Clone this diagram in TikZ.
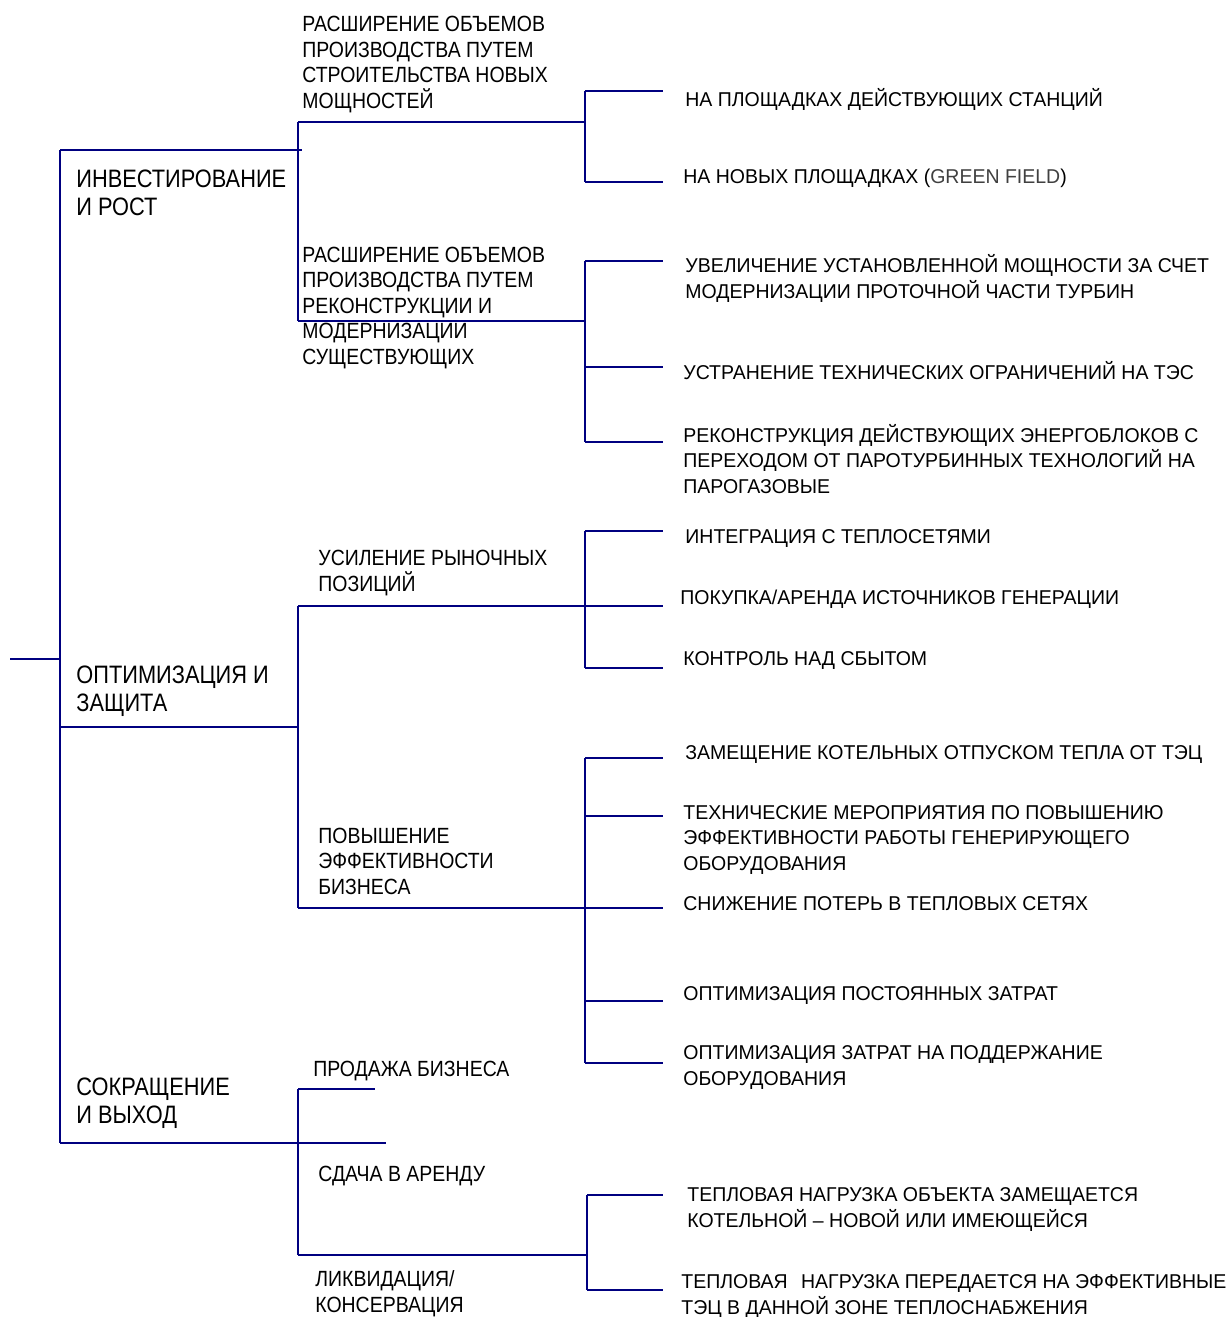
\documentclass[tikz,border=0pt]{standalone}
\usepackage{fontspec}
\setmainfont{Liberation Sans}
\newfontfamily\topfont[FakeStretch=0.865]{Liberation Sans}
\newfontfamily\midfont[FakeStretch=0.885]{Liberation Sans}
\newfontfamily\leaffont[FakeStretch=0.975]{Liberation Sans}
\usetikzlibrary{positioning}
\definecolor{navyline}{RGB}{0,0,128}
% anchor is the baseline of the last line of each label
\tikzset{branch/.style={draw=navyline, line width=1pt},
         goal/.style={anchor=base west, inner sep=0pt, align=left, font=\topfont\fontsize{12.6}{14}\selectfont},
         way/.style={anchor=base west, inner sep=0pt, align=left, font=\midfont\fontsize{11}{12.7}\selectfont},
         measure/.style={anchor=base west, inner sep=0pt, align=left, font=\leaffont\fontsize{10}{12.6}\selectfont},
        }

\begin{document}
\begin{tikzpicture}[x=0.5pt, y=-0.5pt]
        \useasboundingbox (0,0) rectangle (1230,1317);
        % trunk
        \coordinate (root) at (10,659);
        \coordinate (trunk) at (60,659);
        \coordinate (trunkT) at (60,150);
        \coordinate (trunkM) at (60,727);
        \coordinate (trunkB) at (60,1143);
        \draw[branch] (root)--(trunk);
        \draw[branch] (trunkT)--(trunkB);

        % level 1
        \node[goal](inv)at(76,215){ИНВЕСТИРОВАНИЕ\\И РОСТ};
        \node[goal](opt)at(76,711){ОПТИМИЗАЦИЯ И\\ЗАЩИТА};
        \node[goal](red)at(76,1123){СОКРАЩЕНИЕ\\И ВЫХОД};
        \coordinate (invE) at (302,150);
        \coordinate (optE) at (298,727);
        \coordinate (redE) at (386,1143);
        \draw[branch] (trunkT)--(invE);
        \draw[branch] (trunkM)--(optE);
        \draw[branch] (trunkB)--(redE);

        % level 2
        \node[way](newcap)at(302,108){РАСШИРЕНИЕ ОБЪЕМОВ\\ПРОИЗВОДСТВА ПУТЕМ\\СТРОИТЕЛЬСТВА НОВЫХ\\МОЩНОСТЕЙ};
        \node[way](recon)at(302,364){РАСШИРЕНИЕ ОБЪЕМОВ\\ПРОИЗВОДСТВА ПУТЕМ\\РЕКОНСТРУКЦИИ И\\МОДЕРНИЗАЦИИ\\СУЩЕСТВУЮЩИХ};
        \node[way](market)at(318,591){УСИЛЕНИЕ РЫНОЧНЫХ\\ПОЗИЦИЙ};
        \node[way](effic)at(318,894){ПОВЫШЕНИЕ\\ЭФФЕКТИВНОСТИ\\БИЗНЕСА};
        \node[way](sale)at(313,1076){ПРОДАЖА БИЗНЕСА};
        \node[way](lease)at(318,1181){СДАЧА В АРЕНДУ};
        \node[way](close)at(315,1312){ЛИКВИДАЦИЯ/\\КОНСЕРВАЦИЯ};

        \coordinate (inv1) at (298,122);
        \coordinate (inv2) at (298,321);
        \coordinate (opt1) at (298,606);
        \coordinate (opt2) at (298,908);
        \coordinate (red1) at (298,1089);
        \coordinate (red2) at (298,1255);
        \coordinate (saleE) at (375,1089);
        \draw[branch] (inv1)--(inv2);
        \draw[branch] (opt1)--(opt2);
        \draw[branch] (red1)--(red2);
        \draw[branch] (red1)--(saleE);

        % level 3 forks
        \coordinate (forkA) at (585,122);
        \coordinate (forkB) at (585,321);
        \coordinate (forkC) at (585,606);
        \coordinate (forkD) at (585,908);
        \coordinate (forkE) at (587,1255);
        \draw[branch] (inv1)--(forkA);
        \draw[branch] (inv2)--(forkB);
        \draw[branch] (opt1)--(forkC);
        \draw[branch] (opt2)--(forkD);
        \draw[branch] (red2)--(forkE);

        \foreach \g/\x/\ys in {A/585/{91,182}, B/585/{261,367,442}, C/585/{531,606,668},
                               D/585/{758,816,908,1001,1063}, E/587/{1195,1290}}{
          \foreach \y [count=\i] in \ys {
            \coordinate (\g\i) at (\x,\y);
            \coordinate (\g\i e) at (663,\y);
            \draw[branch] (\g\i)--(\g\i e);
          }
        }
        \draw[branch] (A1)--(A2);
        \draw[branch] (B1)--(B3);
        \draw[branch] (C1)--(C3);
        \draw[branch] (D1)--(D5);
        \draw[branch] (E1)--(E2);

        % measures
        \node[measure](a1)at(685,106){НА ПЛОЩАДКАХ ДЕЙСТВУЮЩИХ СТАНЦИЙ};
        \node[measure](a2)at(683,183){НА НОВЫХ ПЛОЩАДКАХ ({\color{black!75}GREEN FIELD})};
        \node[measure](b1)at(685,298){УВЕЛИЧЕНИЕ УСТАНОВЛЕННОЙ МОЩНОСТИ ЗА СЧЕТ\\МОДЕРНИЗАЦИИ ПРОТОЧНОЙ ЧАСТИ ТУРБИН};
        \node[measure](b2)at(683,379){УСТРАНЕНИЕ ТЕХНИЧЕСКИХ ОГРАНИЧЕНИЙ НА ТЭС};
        \node[measure](b3)at(683,493){РЕКОНСТРУКЦИЯ ДЕЙСТВУЮЩИХ ЭНЕРГОБЛОКОВ С\\ПЕРЕХОДОМ ОТ ПАРОТУРБИННЫХ ТЕХНОЛОГИЙ НА\\ПАРОГАЗОВЫЕ};
        \node[measure](c1)at(685,543){ИНТЕГРАЦИЯ С ТЕПЛОСЕТЯМИ};
        \node[measure](c2)at(680,604){ПОКУПКА/АРЕНДА ИСТОЧНИКОВ ГЕНЕРАЦИИ};
        \node[measure](c3)at(683,665){КОНТРОЛЬ НАД СБЫТОМ};
        \node[measure](d1)at(685,759){ЗАМЕЩЕНИЕ КОТЕЛЬНЫХ ОТПУСКОМ ТЕПЛА ОТ ТЭЦ};
        \node[measure](d2)at(683,870){ТЕХНИЧЕСКИЕ МЕРОПРИЯТИЯ ПО ПОВЫШЕНИЮ\\ЭФФЕКТИВНОСТИ РАБОТЫ ГЕНЕРИРУЮЩЕГО\\ОБОРУДОВАНИЯ};
        \node[measure](d3)at(683,910){СНИЖЕНИЕ ПОТЕРЬ В ТЕПЛОВЫХ СЕТЯХ};
        \node[measure](d4)at(683,1000){ОПТИМИЗАЦИЯ ПОСТОЯННЫХ ЗАТРАТ};
        \node[measure](d5)at(683,1085){ОПТИМИЗАЦИЯ ЗАТРАТ НА ПОДДЕРЖАНИЕ\\ОБОРУДОВАНИЯ};
        \node[measure](e1)at(687,1227){ТЕПЛОВАЯ НАГРУЗКА ОБЪЕКТА ЗАМЕЩАЕТСЯ\\КОТЕЛЬНОЙ – НОВОЙ ИЛИ ИМЕЮЩЕЙСЯ};
        \node[measure](e2)at(681,1314){ТЕПЛОВАЯ\hspace{4pt} НАГРУЗКА ПЕРЕДАЕТСЯ НА ЭФФЕКТИВНЫЕ\\ТЭЦ В ДАННОЙ ЗОНЕ ТЕПЛОСНАБЖЕНИЯ};
\end{tikzpicture}
\end{document}
